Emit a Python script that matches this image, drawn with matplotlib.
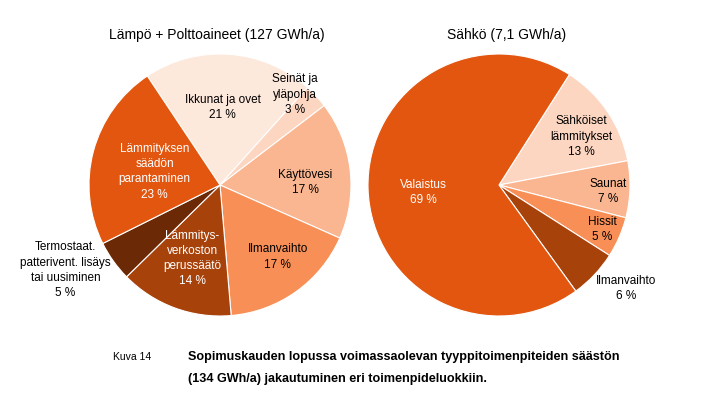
import matplotlib
matplotlib.use('Agg')
import matplotlib.pyplot as plt

plt.rcParams['font.family'] = ['Liberation Sans', 'DejaVu Sans']

# Lämpö + Polttoaineet, myötäpäivään alkaen "Ikkunat ja ovet"
lampo_labels = ["Ikkunat ja ovet", "Seinät ja\nyläpohja", "Käyttövesi", "Ilmanvaihto",
                "Lämmitys-\nverkoston\nperussäätö",
                "Termostaat.\npatterivent. lisäys\ntai uusiminen",
                "Lämmityksen\nsäädön\nparantaminen"]
lampo_values = [21, 3, 17, 17, 14, 5, 23]

# Sähkö, myötäpäivään alkaen "Sähköiset lämmitykset"
sahko_labels = ["Sähköiset\nlämmitykset", "Saunat", "Hissit", "Ilmanvaihto", "Valaistus"]
sahko_values = [13, 7, 5, 6, 69]

lampo_colors = ['#fde8dc', '#fcd6c1', '#fab690', '#f78f56', '#a8420b', '#6c2905', '#e2560f']
sahko_colors = ['#fcd6c1', '#fab690', '#f78f56', '#a8420b', '#e2560f']

# tekstien paikat (x, y) piirakan säteen yksiköissä, tekstin väri
lampo_pos = [(0.02, 0.59), (0.57, 0.69), (0.65, 0.02), (0.44, -0.55),
             (-0.21, -0.56), (-1.18, -0.65), (-0.50, 0.10)]
lampo_txtcol = ['black', 'black', 'black', 'black', 'white', 'black', 'white']
sahko_pos = [(0.63, 0.37), (0.83, -0.05), (0.79, -0.34), (0.97, -0.79), (-0.58, -0.06)]
sahko_txtcol = ['black', 'black', 'black', 'black', 'white']

W, H = 713, 413
fig = plt.figure(figsize=(W / 100, H / 100), dpi=100)


def draw_pie(cx, cy, r, values, colors, labels, pos, txtcol, start, title, title_x):
    ax = fig.add_axes([(cx - r) / W, (H - cy - r) / H, 2 * r / W, 2 * r / H])
    ax.pie(values, colors=colors, startangle=start, counterclock=False,
           wedgeprops=dict(edgecolor='white', linewidth=0.8))
    ax.set_xlim(-1, 1)
    ax.set_ylim(-1, 1)
    ax.set_aspect('equal')
    ax.axis('off')
    for lab, v, (px, py), c in zip(labels, values, pos, txtcol):
        ax.text(px, py, f"{lab}\n{v} %", ha='center', va='center', fontsize=8.5,
                color=c, linespacing=1.35, clip_on=False)
    fig.text(title_x / W, 1 - 35 / H, title, ha='center', va='center', fontsize=10)


draw_pie(220, 185, 131, lampo_values, lampo_colors, lampo_labels, lampo_pos,
         lampo_txtcol, 123.7, "Lämpö + Polttoaineet (127 GWh/a)", 217)
draw_pie(499, 185, 131, sahko_values, sahko_colors, sahko_labels, sahko_pos,
         sahko_txtcol, 57.5, "Sähkö (7,1 GWh/a)", 507)

narrow = ['Liberation Sans Narrow', 'Liberation Sans']
fig.text(113 / W, 1 - 357 / H, "Kuva 14", ha='left', va='center', fontsize=7.5, family=narrow)
fig.text(188 / W, 1 - 357 / H,
         "Sopimuskauden lopussa voimassaolevan tyyppitoimenpiteiden säästön",
         ha='left', va='center', fontsize=9.1, fontweight='bold', family=narrow)
fig.text(188 / W, 1 - 379 / H, "(134 GWh/a) jakautuminen eri toimenpideluokkiin.",
         ha='left', va='center', fontsize=9.1, fontweight='bold', family=narrow)

fig.savefig('out.png', dpi=100, facecolor='white')
